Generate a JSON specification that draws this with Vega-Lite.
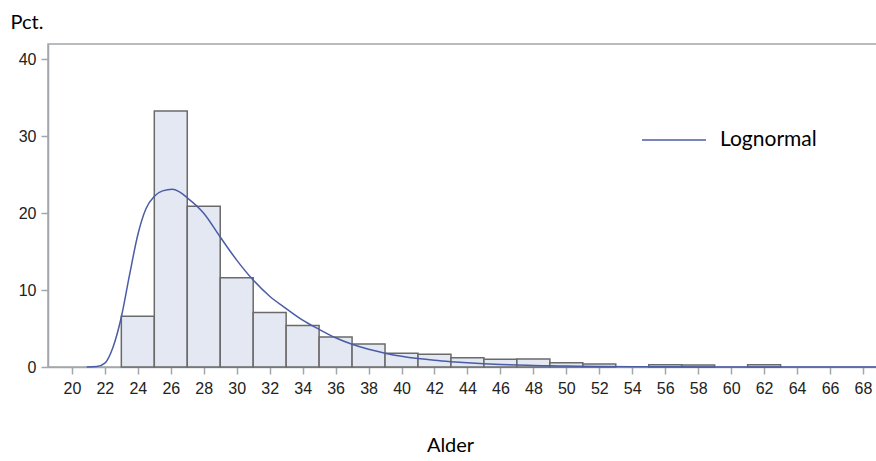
{
  "$schema": "https://vega.github.io/schema/vega-lite/v6.json",
  "width": 829,
  "height": 323,
  "autosize": {"type": "none"},
  "padding": {"left": 48, "top": 44, "right": 0, "bottom": 94},
  "background": "white",
  "config": {
    "view": {"stroke": "#a3a7ab", "strokeWidth": 1.5},
    "axis": {
      "grid": false,
      "domainColor": "#a3a7ab",
      "domainWidth": 1.5,
      "tickColor": "#a3a7ab",
      "tickWidth": 1.5,
      "tickSize": 7,
      "labelFont": "Liberation Sans Narrow, Liberation Sans",
      "labelFontSize": 16,
      "labelColor": "#222222",
      "titleFont": "Lato",
      "titleFontSize": 20,
      "titleFontWeight": "normal",
      "titleColor": "#000000"
    }
  },
  "datasets": {
    "bars": [
      {"lo": 23, "hi": 25, "pct": 6.6},
      {"lo": 25, "hi": 27, "pct": 33.3},
      {"lo": 27, "hi": 29, "pct": 20.9},
      {"lo": 29, "hi": 31, "pct": 11.6},
      {"lo": 31, "hi": 33, "pct": 7.1},
      {"lo": 33, "hi": 35, "pct": 5.4},
      {"lo": 35, "hi": 37, "pct": 3.9},
      {"lo": 37, "hi": 39, "pct": 3.0},
      {"lo": 39, "hi": 41, "pct": 1.8},
      {"lo": 41, "hi": 43, "pct": 1.65},
      {"lo": 43, "hi": 45, "pct": 1.2},
      {"lo": 45, "hi": 47, "pct": 1.0},
      {"lo": 47, "hi": 49, "pct": 1.05},
      {"lo": 49, "hi": 51, "pct": 0.55},
      {"lo": 51, "hi": 53, "pct": 0.4},
      {"lo": 55, "hi": 57, "pct": 0.3},
      {"lo": 57, "hi": 59, "pct": 0.25},
      {"lo": 61, "hi": 63, "pct": 0.3}
    ],
    "curve": [
      {"v": 20.9, "d": 0},
      {"v": 21.5, "d": 0.05},
      {"v": 22.0, "d": 0.5},
      {"v": 22.5, "d": 2.6},
      {"v": 23.0, "d": 6.5},
      {"v": 23.5, "d": 12.0},
      {"v": 24.0, "d": 17.2},
      {"v": 24.5, "d": 20.6},
      {"v": 25.0, "d": 22.2},
      {"v": 25.5, "d": 22.9},
      {"v": 26.1, "d": 23.1},
      {"v": 26.5, "d": 22.8},
      {"v": 27.0, "d": 22.0},
      {"v": 28.0, "d": 20.0},
      {"v": 29.0, "d": 16.9},
      {"v": 30.0, "d": 13.9},
      {"v": 31.0, "d": 11.3},
      {"v": 32.0, "d": 9.2},
      {"v": 33.0, "d": 7.6},
      {"v": 34.0, "d": 6.1},
      {"v": 35.0, "d": 4.9},
      {"v": 36.0, "d": 3.8},
      {"v": 37.0, "d": 2.95},
      {"v": 38.0, "d": 2.3},
      {"v": 39.0, "d": 1.8},
      {"v": 40.0, "d": 1.4},
      {"v": 41.0, "d": 1.1},
      {"v": 42.0, "d": 0.87},
      {"v": 43.0, "d": 0.69},
      {"v": 44.0, "d": 0.54},
      {"v": 45.0, "d": 0.42},
      {"v": 46.0, "d": 0.33},
      {"v": 47.0, "d": 0.26},
      {"v": 48.0, "d": 0.2},
      {"v": 49.0, "d": 0.15},
      {"v": 50.0, "d": 0.12},
      {"v": 52.0, "d": 0.07},
      {"v": 54.0, "d": 0.04},
      {"v": 56.0, "d": 0.02},
      {"v": 60.0, "d": 0.005},
      {"v": 68.85, "d": 0}
    ]
  },
  "layer": [
    {
      "data": {"name": "bars"},
      "mark": {"type": "rect", "fill": "#e3e8f2", "stroke": "#6a6a6a", "strokeWidth": 1.5},
      "encoding": {
        "x": {
          "field": "lo", "type": "quantitative",
          "scale": {"domain": [18.55, 68.85], "nice": false, "zero": false},
          "axis": {
            "values": [20,22,24,26,28,30,32,34,36,38,40,42,44,46,48,50,52,54,56,58,60,62,64,66,68],
            "labelOverlap": false,
            "labelFlush": false,
            "labelBound": false,
            "labelPadding": 6,
            "title": "Alder",
            "titleX": 402,
            "titleY": 78,
            "titleAlign": "center",
            "titleBaseline": "middle"
          }
        },
        "x2": {"field": "hi"},
        "y": {
          "field": "pct", "type": "quantitative",
          "scale": {"domain": [0, 42], "nice": false},
          "axis": {
            "values": [0, 10, 20, 30, 40],
            "labelOverlap": false,
            "labelPadding": 5,
            "title": "Pct.",
            "titleAngle": 0,
            "titleAlign": "left",
            "titleBaseline": "middle",
            "titleX": -38,
            "titleY": -22
          }
        },
        "y2": {"datum": 0}
      }
    },
    {
      "data": {"name": "curve"},
      "mark": {"type": "line", "strokeWidth": 1.5, "interpolate": "monotone"},
      "encoding": {
        "x": {
          "field": "v", "type": "quantitative",
          "axis": {
            "values": [20,22,24,26,28,30,32,34,36,38,40,42,44,46,48,50,52,54,56,58,60,62,64,66,68],
            "labelOverlap": false,
            "labelFlush": false,
            "labelBound": false,
            "labelPadding": 6,
            "title": "Alder",
            "titleX": 402,
            "titleY": 78,
            "titleAlign": "center",
            "titleBaseline": "middle"
          }
        },
        "y": {
          "field": "d", "type": "quantitative",
          "axis": {
            "values": [0, 10, 20, 30, 40],
            "labelOverlap": false,
            "labelPadding": 5,
            "title": "Pct.",
            "titleAngle": 0,
            "titleAlign": "left",
            "titleBaseline": "middle",
            "titleX": -38,
            "titleY": -22
          }
        },
        "color": {
          "datum": "Lognormal", "type": "nominal",
          "scale": {"range": ["#4a5ca6"]},
          "legend": {
            "orient": "none",
            "legendX": 593,
            "legendY": 63,
            "title": null,
            "symbolType": "stroke",
            "symbolSize": 4096,
            "symbolStrokeWidth": 1.5,
            "labelFont": "Lato",
            "labelFontSize": 21,
            "labelColor": "#000000",
            "labelOffset": 13
          }
        }
      }
    }
  ]
}
